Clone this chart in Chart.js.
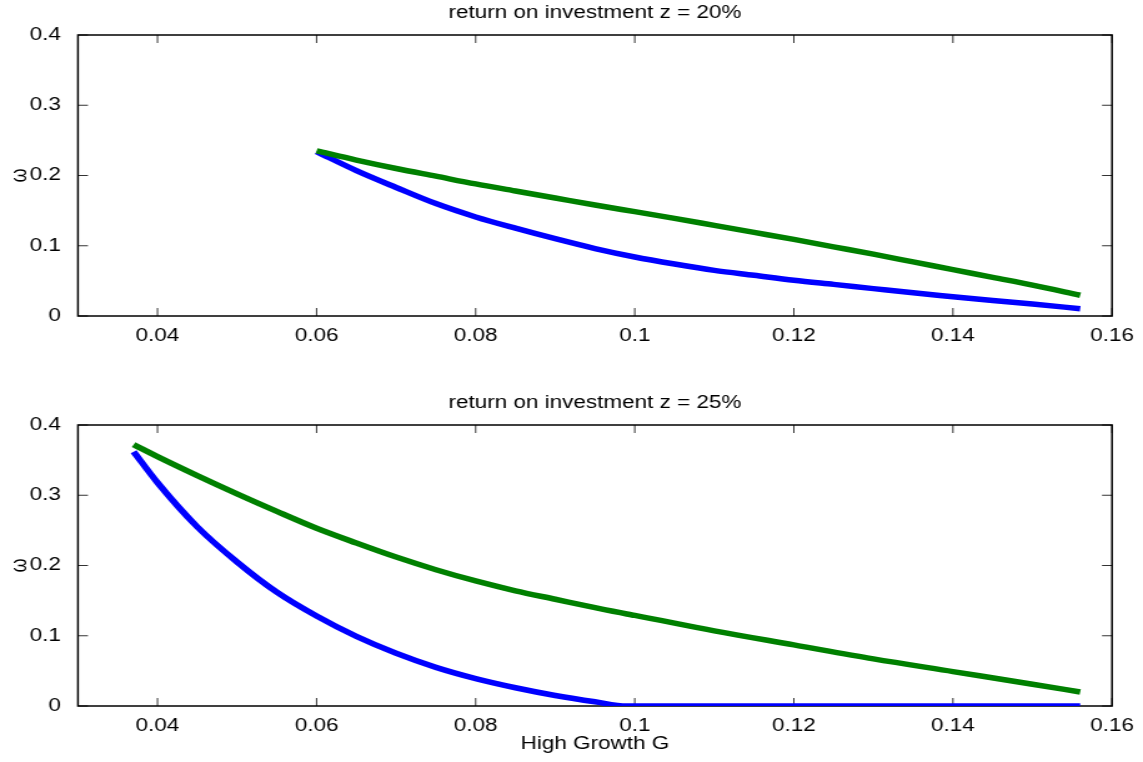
<!DOCTYPE html>
<html>
<head>
<meta charset="utf-8">
<script src="https://cdn.jsdelivr.net/npm/chart.js@4/dist/chart.umd.min.js"></script>
<style>
  html, body { margin: 0; padding: 0; background: #fff; overflow: hidden; }
  canvas { position: absolute; left: 0; }
</style>
</head>
<body>
<canvas id="c1" width="915" height="390" style="top:0px;width:1143px;height:390px"></canvas>
<canvas id="c2" width="915" height="372" style="top:390px;width:1143px;height:372px"></canvas>
<script>
// ---- data ----
const titleTop = 'return on investment z = 20%';
const titleBottom = 'return on investment z = 25%';
const xAxisTitle = 'High Growth G';
const yAxisTitle = 'ω';

const xTicks = [0.04, 0.06, 0.08, 0.1, 0.12, 0.14, 0.16];
const yTicks = [0, 0.1, 0.2, 0.3, 0.4];

const gTop = [0.06, 0.065, 0.07, 0.075, 0.08, 0.085, 0.09, 0.095, 0.1, 0.105,
              0.11, 0.115, 0.12, 0.125, 0.13, 0.135, 0.14, 0.145, 0.15, 0.156];
const blueTop = [0.234, 0.207, 0.183, 0.160, 0.141, 0.125, 0.110, 0.096, 0.084, 0.074,
                 0.065, 0.058, 0.051, 0.045, 0.039, 0.033, 0.0275, 0.022, 0.017, 0.0104];
const greenTop = [0.235, 0.222, 0.210, 0.199, 0.188, 0.178, 0.168, 0.158, 0.1485, 0.139,
                  0.129, 0.119, 0.109, 0.0985, 0.088, 0.077, 0.066, 0.055, 0.044, 0.0295];

const gBottom = [0.037, 0.04, 0.045, 0.05, 0.055, 0.06, 0.065, 0.07, 0.075, 0.08, 0.085,
                 0.09, 0.095, 0.099, 0.1, 0.11, 0.12, 0.13, 0.14, 0.15, 0.156];
const blueBottom = [0.362, 0.318, 0.255, 0.205, 0.162, 0.128, 0.099, 0.075, 0.055, 0.039, 0.026,
                    0.015, 0.006, 0, 0, 0, 0, 0, 0, 0, 0];
const greenBottom = [0.372, 0.355, 0.328, 0.302, 0.277, 0.253, 0.232, 0.212, 0.194, 0.178, 0.164,
                     0.152, 0.140, 0.131, 0.129, 0.107, 0.087, 0.067, 0.049, 0.031, 0.020];

const xMin = 0.03, xMax = 0.16, yMin = 0, yMax = 0.4;

// ---- drawing ----
const FONT = { family: '"Liberation Sans", Arial, Helvetica, sans-serif', size: 18 };
const BLUE = '#0000ff', GREEN = '#008000';

function pts(xs, ys) { return xs.map((x, i) => ({ x: x, y: ys[i] })); }
function fmt(v) { return String(parseFloat(Number(v).toFixed(4))); }

const boxTicks = {
  id: 'boxTicks',
  beforeDatasetsDraw(chart) {
    const ctx = chart.ctx;
    const { left, right, top, bottom } = chart.chartArea;
    const xs = chart.scales.x, ys = chart.scales.y;
    ctx.save();
    ctx.strokeStyle = '#333';
    ctx.lineWidth = 1;
    ctx.beginPath();
    xs.ticks.forEach(t => {
      const px = xs.getPixelForValue(t.value);
      ctx.moveTo(px, bottom); ctx.lineTo(px, bottom - 8);
      ctx.moveTo(px, top); ctx.lineTo(px, top + 8);
    });
    ys.ticks.forEach(t => {
      const py = ys.getPixelForValue(t.value);
      ctx.moveTo(left, py); ctx.lineTo(left + 8, py);
      ctx.moveTo(right, py); ctx.lineTo(right - 8, py);
    });
    ctx.stroke();
    ctx.strokeStyle = '#000';
    ctx.lineWidth = 1.5;
    ctx.strokeRect(left, top, right - left, bottom - top);
    ctx.restore();
  }
};

function makeChart(id, title, gs, blue, green, showXTitle, canvasH) {
  const common = { borderWidth: 5.5, pointRadius: 0, fill: false, clip: 0,
                   cubicInterpolationMode: 'monotone' };
  return new Chart(document.getElementById(id), {
    type: 'line',
    data: {
      datasets: [
        Object.assign({ data: pts(gs, green), borderColor: GREEN, order: 0 }, common),
        Object.assign({ data: pts(gs, blue), borderColor: BLUE, order: 1 }, common)
      ]
    },
    options: {
      responsive: false,
      animation: false,
      devicePixelRatio: 1,
      layout: { padding: { left: 0, right: 24.8, top: 0, bottom: 0 } },
      plugins: { legend: { display: false }, tooltip: { enabled: false }, title: { display: false } },
      scales: {
        x: {
          type: 'linear', position: 'bottom', min: xMin, max: xMax,
          grid: { display: false }, border: { display: false },
          afterBuildTicks: s => { s.ticks = xTicks.map(v => ({ value: v })); },
          afterFit: s => { s.height = canvasH - 316; },
          ticks: { color: '#000', font: FONT, padding: 1, maxRotation: 0, autoSkip: false,
                   callback: v => fmt(v) },
          title: { display: showXTitle, text: xAxisTitle, color: '#000', font: FONT,
                   padding: { top: 0, bottom: 7 } }
        },
        x2: {
          type: 'linear', position: 'top', min: xMin, max: xMax,
          grid: { display: false }, border: { display: false },
          ticks: { display: false },
          afterFit: s => { s.height = 35; },
          title: { display: true, text: title, color: '#000', font: FONT,
                   padding: { top: 2, bottom: 0 } }
        },
        y: {
          type: 'linear', position: 'left', min: yMin, max: yMax,
          grid: { display: false }, border: { display: false },
          afterBuildTicks: s => { s.ticks = yTicks.map(v => ({ value: v })); },
          afterFit: s => { s.width = 62.4; },
          ticks: { color: '#000', font: FONT, padding: 5.6, callback: v => fmt(v) },
          title: { display: true, text: yAxisTitle, color: '#000', font: FONT,
                   padding: { top: 5, bottom: 0 } }
        }
      }
    },
    plugins: [boxTicks]
  });
}

makeChart('c1', titleTop, gTop, blueTop, greenTop, false, 390);
makeChart('c2', titleBottom, gBottom, blueBottom, greenBottom, true, 372);
</script>
</body>
</html>
